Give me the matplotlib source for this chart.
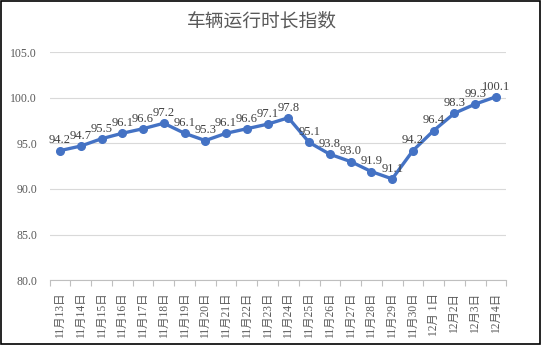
import matplotlib
matplotlib.use("Agg")
import matplotlib.pyplot as plt
from matplotlib.patches import Rectangle
import numpy as np

plt.rcParams['font.family'] = ['Liberation Serif', 'Noto Sans CJK SC']

# ---------------- Data ----------------
dates = ['11月13日', '11月14日', '11月15日', '11月16日', '11月17日', '11月18日',
         '11月19日', '11月20日', '11月21日', '11月22日', '11月23日', '11月24日',
         '11月25日', '11月26日', '11月27日', '11月28日', '11月29日', '11月30日',
         '12月 1日', '12月2日', '12月3日', '12月4日']
index_values = [94.2, 94.7, 95.5, 96.1, 96.6, 97.2, 96.1, 95.3, 96.1, 96.6, 97.1,
                97.8, 95.1, 93.8, 93.0, 91.9, 91.1, 94.2, 96.4, 98.3, 99.3, 100.1]
y_ticks = [80.0, 85.0, 90.0, 95.0, 100.0, 105.0]

line_color = '#4472C4'
text_color = '#595959'
grid_color = '#D9D9D9'

# ---------------- Figure ----------------
fig = plt.figure(figsize=(5.41, 3.45), dpi=100)
ax = fig.add_axes([0.0917, 0.188, 0.8443, 0.661])

x = np.arange(len(dates))
ax.plot(x, index_values, color=line_color, lw=2.4, marker='o', ms=5.5,
        solid_capstyle='round', zorder=3)

for xi, v in zip(x, index_values):
    ax.annotate(f'{v:.1f}', (xi, v), xytext=(0, 3), textcoords='offset points',
                ha='center', va='bottom', fontsize=9, color='#404040')

ax.set_xlim(-0.5, len(dates) - 0.5)
ax.set_ylim(80, 105)
ax.set_yticks(y_ticks)
ax.set_yticklabels([f'{t:.1f}' for t in y_ticks], fontsize=8.5, color=text_color)
ax.yaxis.grid(True, color=grid_color, lw=0.8)
ax.set_axisbelow(True)

# category labels, ticks sit between categories
ax.set_xticks(x)
ax.set_xticklabels(dates, rotation=90, fontsize=8.3, color=text_color)
ax.tick_params(axis='x', length=0, pad=9)
ax.tick_params(axis='y', length=0, pad=9)
ax.set_xticks(np.arange(-0.5, len(dates)), minor=True)
ax.tick_params(axis='x', which='minor', length=4, color='#BFBFBF', width=0.8)

for side in ['top', 'right', 'left']:
    ax.spines[side].set_visible(False)
ax.spines['bottom'].set_color('#BFBFBF')
ax.spines['bottom'].set_linewidth(0.8)

fig.text(262 / 541, 1 - 22 / 345, '车辆运行时长指数', fontsize=13.5, color=text_color,
         ha='center', va='center')

# outer frame
fig.patches.append(Rectangle((0.002, 0.003), 0.996, 0.994, transform=fig.transFigure,
                             fill=False, edgecolor='black', lw=1.2))

fig.savefig('out.png', dpi=100)
